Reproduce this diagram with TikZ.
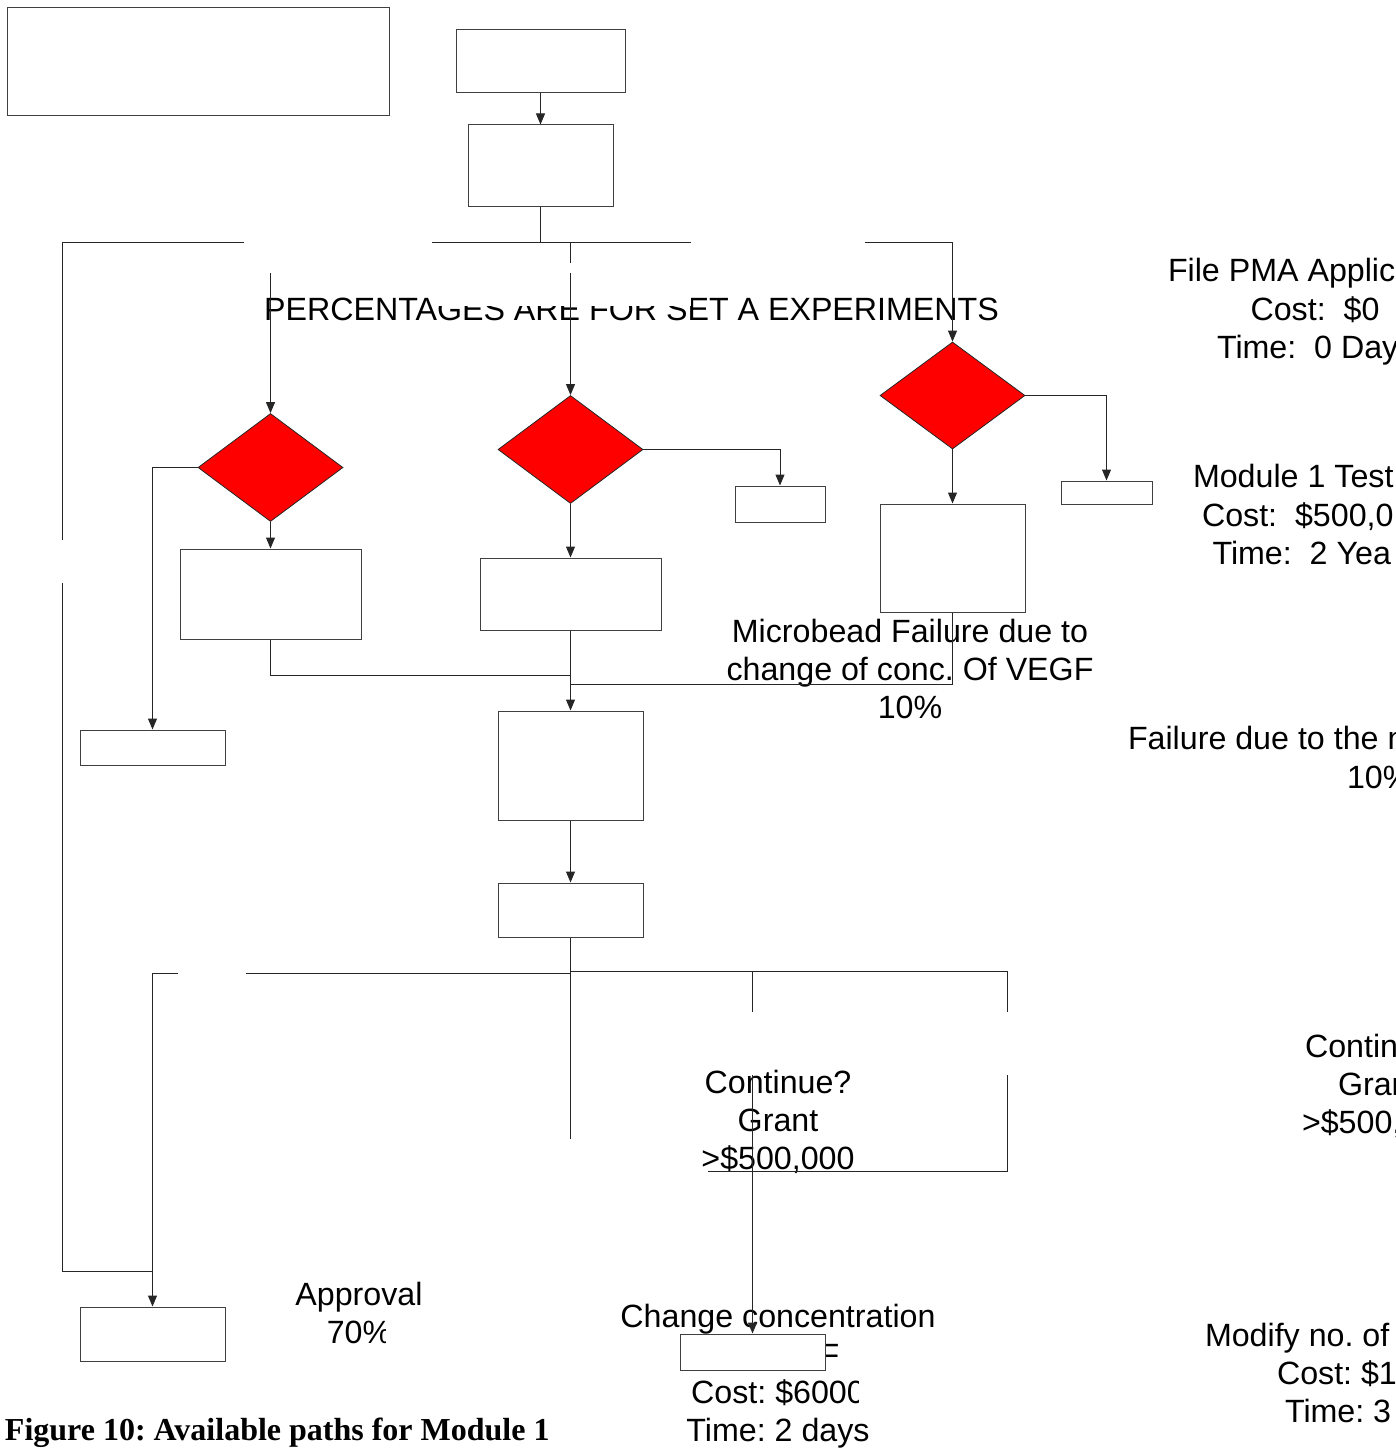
\documentclass[tikz,border=0pt]{standalone}
\usepackage{fontspec}
\setmainfont{Liberation Sans}
\newfontfamily\capfont{Liberation Serif}
\usetikzlibrary{shapes.geometric,arrows.meta}
\frenchspacing
\begin{document}
\begin{tikzpicture}[x=1pt,y=-1pt,
  ln/.style={draw=black!85,line width=1pt},
  arr/.style={ln,-{Triangle[length=11pt,width=9pt]}},
  box/.style={rectangle,draw=black!75,line width=1pt,fill=white,inner sep=0pt},
  dia/.style={diamond,draw=black!85,line width=0.8pt,fill=red,inner sep=0pt,minimum width=145pt,minimum height=108pt},
  txt/.style={inner sep=0pt,outer sep=0pt,font=\fontsize{32.2pt}{38.5pt}\selectfont,text=black},
  capt/.style={inner sep=0pt,outer sep=0pt,font=\capfont\bfseries\fontsize{32pt}{38pt}\selectfont}
]
\useasboundingbox (0,0) rectangle (1396,1450);
\clip (0,0) rectangle (1396,1450);

% ---------- texts ----------
\node[txt,anchor=base] (pct) at (631.5,320.5) {PERCENTAGES ARE FOR SET A EXPERIMENTS};
\fill[white] (437,244) rectangle (691,306);

\node[txt,anchor=base west] (fa1) at (1168,281.5) {File PMA Applic};
\node[txt,anchor=base] (fa2) at (1315,320.5) {Cost:\ \ \$0};
\node[txt,anchor=base west] (fa3) at (1217,358.5) {Time:\ \ 0 Day};

\node[txt,anchor=base west] (mt1) at (1193,487.5) {Module 1 Test};
\node[txt,anchor=base west] (mt2) at (1202,526.5) {Cost:\ \ \$500,0};
\node[txt,anchor=base west] (mt3) at (1212.5,564.5) {Time:\ \ 2 Yea};

\node[txt,anchor=base] (mf1) at (910,642.5) {Microbead Failure due to};
\node[txt,anchor=base] (mf2) at (910,680.5) {change of conc. Of VEGF};
\node[txt,anchor=base] (mf3) at (910,718.5) {10\%};

\node[txt,anchor=base west] (fr1) at (1128,749.5) {Failure due to the n};
\node[txt,anchor=base west] (fr2) at (1347,788) {10\%};

\node[txt,anchor=base west] (cr1) at (1305,1057.5) {Contin};
\node[txt,anchor=base west] (cr2) at (1338,1095.5) {Gran};
\node[txt,anchor=base west] (cr3) at (1302,1133.5) {>\$500,};

\node[txt,anchor=base] (cm1) at (778,1093.5) {Continue?};
\node[txt,anchor=base] (cm2) at (778,1131.5) {Grant};
\node[txt,anchor=base] (cm3) at (778,1169.5) {>\$500,000};

\node[txt,anchor=base west] (mo1) at (1205,1346.5) {Modify no. of};
\node[txt,anchor=base west] (mo2) at (1277,1384.5) {Cost: \$1};
\node[txt,anchor=base west] (mo3) at (1285,1422.5) {Time: 3};

\node[txt,anchor=base] (ap1) at (359,1305.5) {Approval};
\begin{scope}
  \clip (300,1300) rectangle (385,1360);
  \node[txt,anchor=base] (ap2) at (359,1343.5) {70\%};
\end{scope}

\node[txt,anchor=base] (cc1) at (778,1327.5) {Change concentration};
\node[txt,anchor=base east] (cc2) at (839.4,1366) {F};
\begin{scope}
  \clip (680,1372) rectangle (858,1415);
  \node[txt,anchor=base] (cc3) at (778,1403.5) {Cost: \$6000};
\end{scope}
\node[txt,anchor=base] (cc4) at (778,1441.5) {Time: 2 days};

\node[capt,anchor=base west] (cap) at (5,1440.6) {Figure 10: Available paths for Module 1};

% ---------- boxes ----------
\node[box,minimum width=382pt,minimum height=108pt] (bA) at (198,62) {};
\node[box,minimum width=169pt,minimum height=63pt] (bB) at (540.5,61.5) {};
\node[box,minimum width=145pt,minimum height=81pt] (bC) at (540.5,165.5) {};
\node[dia] (d1) at (270.5,467.5) {};
\node[dia] (d2) at (570.5,449.5) {};
\node[dia,minimum height=107pt] (d3) at (952.5,395.5) {};
\node[box,minimum width=181pt,minimum height=90pt] (b1) at (270.5,594) {};
\node[box,minimum width=181pt,minimum height=72pt] (b2) at (570.5,594) {};
\node[box,minimum width=145pt,minimum height=108pt] (b3) at (952.5,558) {};
\node[box,minimum width=90pt,minimum height=36pt] (s2) at (780,504) {};
\node[box,minimum width=91pt,minimum height=23pt] (s3) at (1106.5,492.5) {};
\node[box,minimum width=145pt,minimum height=35pt] (sL) at (152.5,747.5) {};
\node[box,minimum width=145pt,minimum height=109pt] (b4) at (570.5,765.5) {};
\node[box,minimum width=145pt,minimum height=54pt] (b5) at (570.5,910) {};
\node[box,minimum width=145pt,minimum height=54pt] (bL2) at (152.5,1334) {};
\node[box,minimum width=145pt,minimum height=36pt] (bM) at (752.5,1352) {};

% ---------- coordinates ----------
\coordinate (t0) at (540.5,242);
\coordinate (h1) at (432,242); \coordinate (h2) at (691,242);
\coordinate (v1a) at (570.5,242); \coordinate (v1b) at (570.5,263);
\coordinate (v2) at (570.5,273); \coordinate (v3) at (270.5,273);
\coordinate (l1) at (244,242); \coordinate (l2) at (62,242); \coordinate (l3) at (62,540);
\coordinate (l4) at (62,583); \coordinate (l5) at (62,1271); \coordinate (l6) at (152.5,1271);
\coordinate (r1) at (865,242); \coordinate (r2) at (952.5,242);
\coordinate (j1) at (570.5,675); \coordinate (j2) at (570.5,684);
\coordinate (m1) at (570.5,1139);
\coordinate (a1) at (570.5,973); \coordinate (a2) at (246,973);
\coordinate (a3) at (178,973); \coordinate (a4) at (152.5,973);
\coordinate (c1) at (570.5,971.5); \coordinate (c2) at (1007,971.5);
\coordinate (c3) at (752.5,971.5); \coordinate (c4) at (752.5,1012); \coordinate (c5) at (1007,1012);
\coordinate (e1) at (1007,1075); \coordinate (e2) at (1007,1171); \coordinate (e3) at (708,1171);
\coordinate (g1) at (752.5,1075);

% ---------- connectors ----------
\draw[arr] (bB) -- (bC);
\draw[ln] (bC.south) -- (t0);
\draw[ln] (h1) -- (h2);
\draw[ln] (v1a) -- (v1b);
\draw[arr] (v2) -- (d2.north);
\draw[arr] (v3) -- (d1.north);
\draw[ln] (l1) -- (l2) -- (l3);
\draw[ln] (l4) -- (l5) -- (l6);
\draw[arr] (r1) -- (r2) -- (d3.north);
\draw[arr] (d3.east) -| (s3.north);
\draw[arr] (d3) -- (b3);
\draw[ln] (b3.south) |- (j2);
\draw[arr] (d2.east) -| (s2.north);
\draw[arr] (d2) -- (b2);
\draw[arr] (b2) -- (b4);
\draw[arr] (d1.west) -| (sL.north);
\draw[arr] (d1) -- (b1);
\draw[ln] (b1.south) |- (j1);
\draw[arr] (b4) -- (b5);
\draw[ln] (b5.south) -- (m1);
\draw[ln] (a1) -- (a2);
\draw[arr] (a3) -- (a4) -- (bL2.north);
\draw[ln] (c1) -- (c2) -- (c5);
\draw[ln] (c3) -- (c4);
\draw[ln] (e1) -- (e2) -- (e3);
\draw[arr] (g1) -- (bM.north);
\end{tikzpicture}
\end{document}
